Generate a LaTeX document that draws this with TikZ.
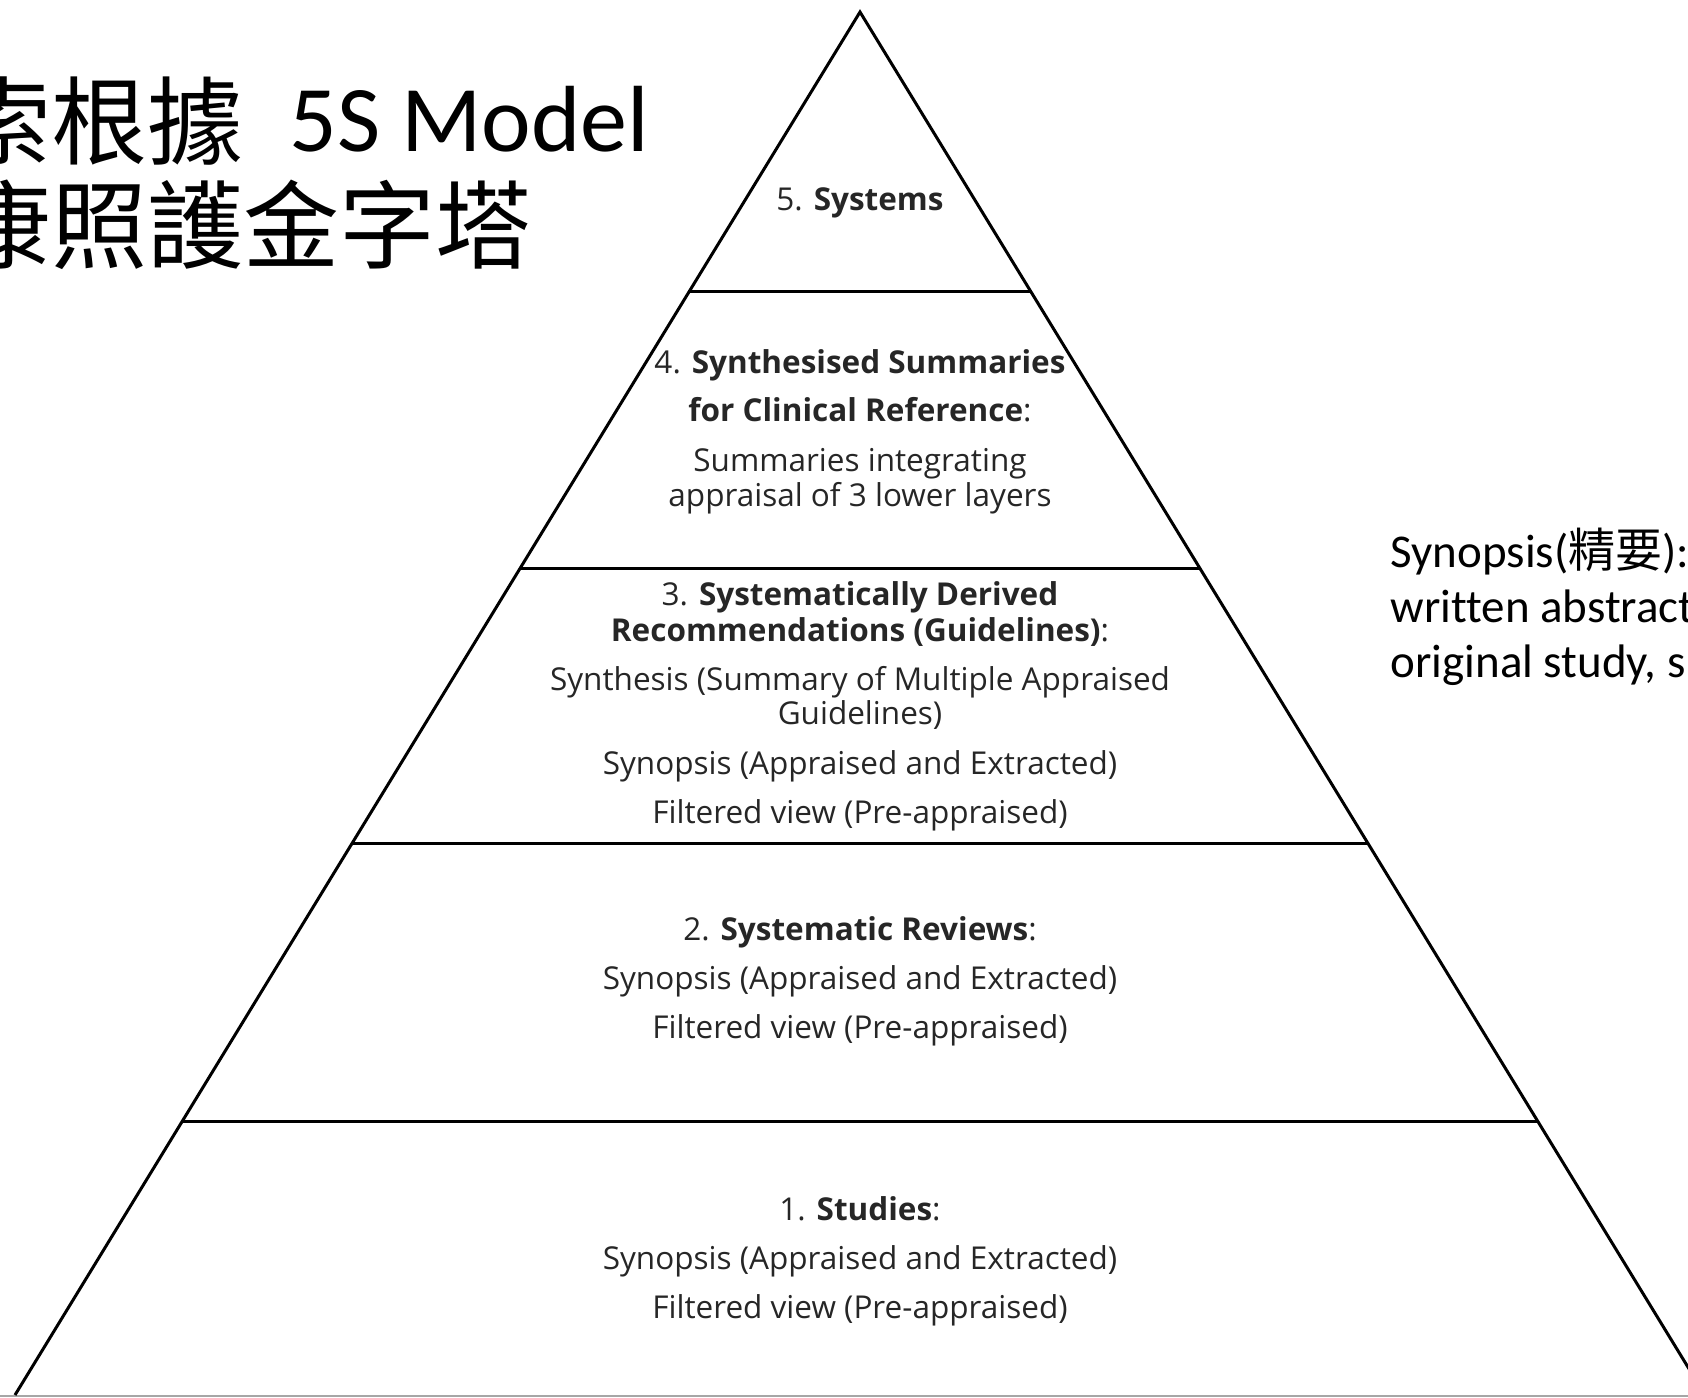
\documentclass[tikz,border=0pt]{standalone}
\usepackage{fontspec}
\setmainfont{Open Sans}
\newfontfamily\calibrifont[Ligatures=NoCommon]{Carlito}
\newfontfamily\cjkfont{Noto Sans CJK TC}
\usetikzlibrary{calc}

\begin{document}
\begin{tikzpicture}[x=1pt, y=-1pt,
    edge/.style={line width=3pt, black},
    layer/.style={anchor=base, text=black!85, font=\fontsize{31.5}{36}\selectfont},
    note/.style={anchor=base west, font=\calibrifont\fontsize{47}{54}\selectfont}]

    % Fix the page to the size of the picture
    \useasboundingbox (0,0) rectangle (1688,1397);
    \clip (0,0) rectangle (1688,1397);

    % Define the corners of the pyramid
    \coordinate (T) at (860,12); % Apex
    \coordinate (L) at (15,1395); % Bottom left
    \coordinate (R) at (1705,1395); % Bottom right, off the page

    % Draw the base and the two sides
    \draw[gray!70, line width=2pt] (0,1396) -- (1688,1396);
    \draw[edge] (L) -- (T) -- (R);

    % Draw the borders between the five layers
    \foreach \y in {291,568,843,1121} {
        \draw[edge] ($(L)!{(1395-\y)/1383}!(T)$) -- ($(R)!{(1395-\y)/1383}!(T)$);
    }

    % Layer 5
    \node[layer] (sys) at (860,210) {5. \textbf{Systems}};

    % Layer 4
    \node[layer] (sum) at (860,373) {4. \textbf{Synthesised Summaries}};
    \node[layer] (sumb) at (860,421) {\textbf{for Clinical Reference}:};
    \node[layer] (sumc) at (860,471) {Summaries integrating};
    \node[layer] (sumd) at (860,506) {appraisal of 3 lower layers};

    % Layer 3
    \node[layer] (gdl) at (860,605) {3. \textbf{Systematically Derived}};
    \node[layer] (gdlb) at (860,641) {\textbf{Recommendations (Guidelines)}:};
    \node[layer] (gdlc) at (860,690) {Synthesis (Summary of Multiple Appraised};
    \node[layer] (gdld) at (860,724) {Guidelines)};

    % Layer 2
    \node[layer] (rev) at (860,940) {2. \textbf{Systematic Reviews}:};

    % Layer 1
    \node[layer] (std) at (860,1220) {1. \textbf{Studies}:};

    % The two lines repeated in layers 3, 2 and 1
    \foreach \y [count=\i] in {774,989,1269} {
        \node[layer] (syn\i) at (860,\y) {Synopsis (Appraised and Extracted)};
        \node[layer] (flt\i) at (860,\y+49) {Filtered view (Pre-appraised)};
    }

    % Title, cut at the left edge
    \node[anchor=base west, font=\calibrifont\fontsize{94}{104}\selectfont] (title) at (-48,151)
        {\raisebox{-6pt}{\cjkfont\fontsize{96}{104}\selectfont 索根據}\hspace{46pt}5S Model};
    \node[anchor=base west, font=\cjkfont\fontsize{96}{104}\selectfont] (titleb) at (-48,261)
        {康照護金字塔};

    % Note on the right, cut at the right edge
    \node[note] (syna) at (1387,567) {Synopsis({\cjkfont 精要}):};
    \node[note] (synb) at (1387,622) {written abstract};
    \node[note] (sync) at (1387,677) {original study, s};

\end{tikzpicture}
\end{document}
